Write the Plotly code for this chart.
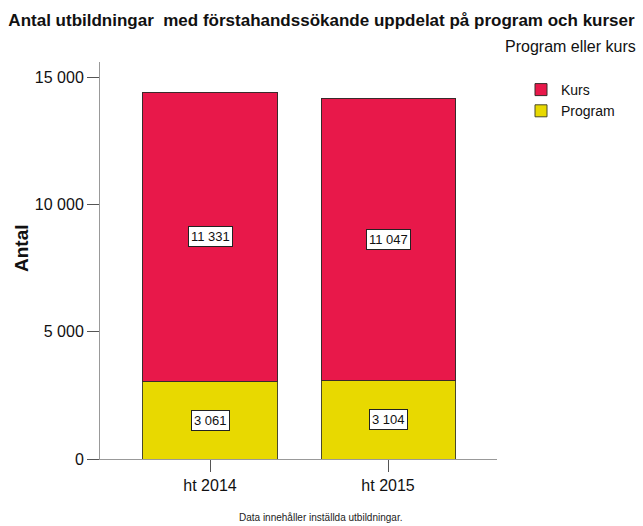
import plotly.graph_objects as go

categories = ["ht 2014", "ht 2015"]
program_values = [3061, 3104]
kurs_values = [11331, 11047]
series_names = ["Program", "Kurs"]
title_text = "Antal utbildningar  med förstahandssökande uppdelat på program och kurser"
legend_title = "Program eller kurs"
y_title = "Antal"
footer_text = "Data innehåller inställda utbildningar."
y_tickvals = [0, 5000, 10000, 15000]
y_ticktext = ["0", "5 000", "10 000", "15 000"]

FONT = "Liberation Sans, Arial, sans-serif"
RED = "#E8184A"
YELLOW = "#E8D900"

W, H = 643, 526
L, R, T, B = 100, 146, 62, 67
pw, ph = W - L - R, H - T - B


def px_x(x):
    return (x - L) / pw


def px_y(y):
    return (H - B - y) / ph


def fmt(v):
    return f"{v:,}".replace(",", " ")


fig = go.Figure()
fig.add_trace(go.Bar(x=categories, y=program_values, name=series_names[0],
                     marker=dict(color=YELLOW, line=dict(color="#4a4a2a", width=1))))
fig.add_trace(go.Bar(x=categories, y=kurs_values, name=series_names[1],
                     marker=dict(color=RED, line=dict(color="#3a2a2a", width=1))))

annotations = []
for i, c in enumerate(categories):
    p = program_values[i]
    k = kurs_values[i]
    for val, mid in ((p, p / 2), (k, p + k / 2)):
        annotations.append(dict(x=c, y=mid, xref="x", yref="y", text=fmt(val),
                                showarrow=False, bgcolor="white", bordercolor="#222",
                                borderwidth=1, borderpad=2,
                                font=dict(family=FONT, size=13, color="#111")))

annotations.append(dict(x=px_x(503), y=px_y(47), xref="paper", yref="paper",
                        text=legend_title, showarrow=False, xanchor="left",
                        yanchor="middle", font=dict(family=FONT, size=16, color="#111")))
annotations.append(dict(x=px_x(320), y=px_y(517), xref="paper", yref="paper",
                        text=footer_text, showarrow=False, xanchor="center",
                        yanchor="middle", font=dict(family=FONT, size=10, color="#222")))
annotations.append(dict(x=px_x(21), y=px_y(248), xref="paper", yref="paper",
                        text=f"<b>{y_title}</b>", showarrow=False, textangle=-90,
                        xanchor="center", yanchor="middle",
                        font=dict(family=FONT, size=19, color="#111")))

fig.update_layout(
    width=W, height=H,
    margin=dict(l=L, r=R, t=T, b=B, autoexpand=False),
    barmode="stack", bargap=0.247,
    paper_bgcolor="white", plot_bgcolor="white",
    font=dict(family=FONT, color="#111"),
    title=dict(text=f"<b>{title_text}</b>", x=0.5, xref="container", xanchor="center",
               y=1 - 20 / H, yref="container", yanchor="middle",
               font=dict(family=FONT, size=17, color="#111")),
    showlegend=True,
    legend=dict(traceorder="reversed", xref="container", yref="container",
                x=521 / W, y=1 - 74 / H,
                xanchor="left", yanchor="top", itemwidth=30,
                font=dict(family=FONT, size=14, color="#111"),
                bgcolor="rgba(0,0,0,0)", tracegroupgap=0),
    xaxis=dict(type="category", range=[-0.618, 1.612], showline=True, linecolor="#999",
               linewidth=1, ticks="outside", ticklen=12, tickcolor="#555",
               tickfont=dict(family=FONT, size=16, color="#111"), showgrid=False,
               zeroline=False, fixedrange=True),
    yaxis=dict(range=[0, 15600], tickvals=y_tickvals, ticktext=y_ticktext,
               showline=True, linecolor="#999", linewidth=1, ticks="outside",
               ticklen=12, tickcolor="#555", showgrid=False, zeroline=False,
               tickfont=dict(family=FONT, size=16, color="#111")),
    annotations=annotations,
)

fig.write_html("out.html", config={"displayModeBar": False},
               post_script="document.body.style.margin='0';document.body.style.overflow='hidden';")
